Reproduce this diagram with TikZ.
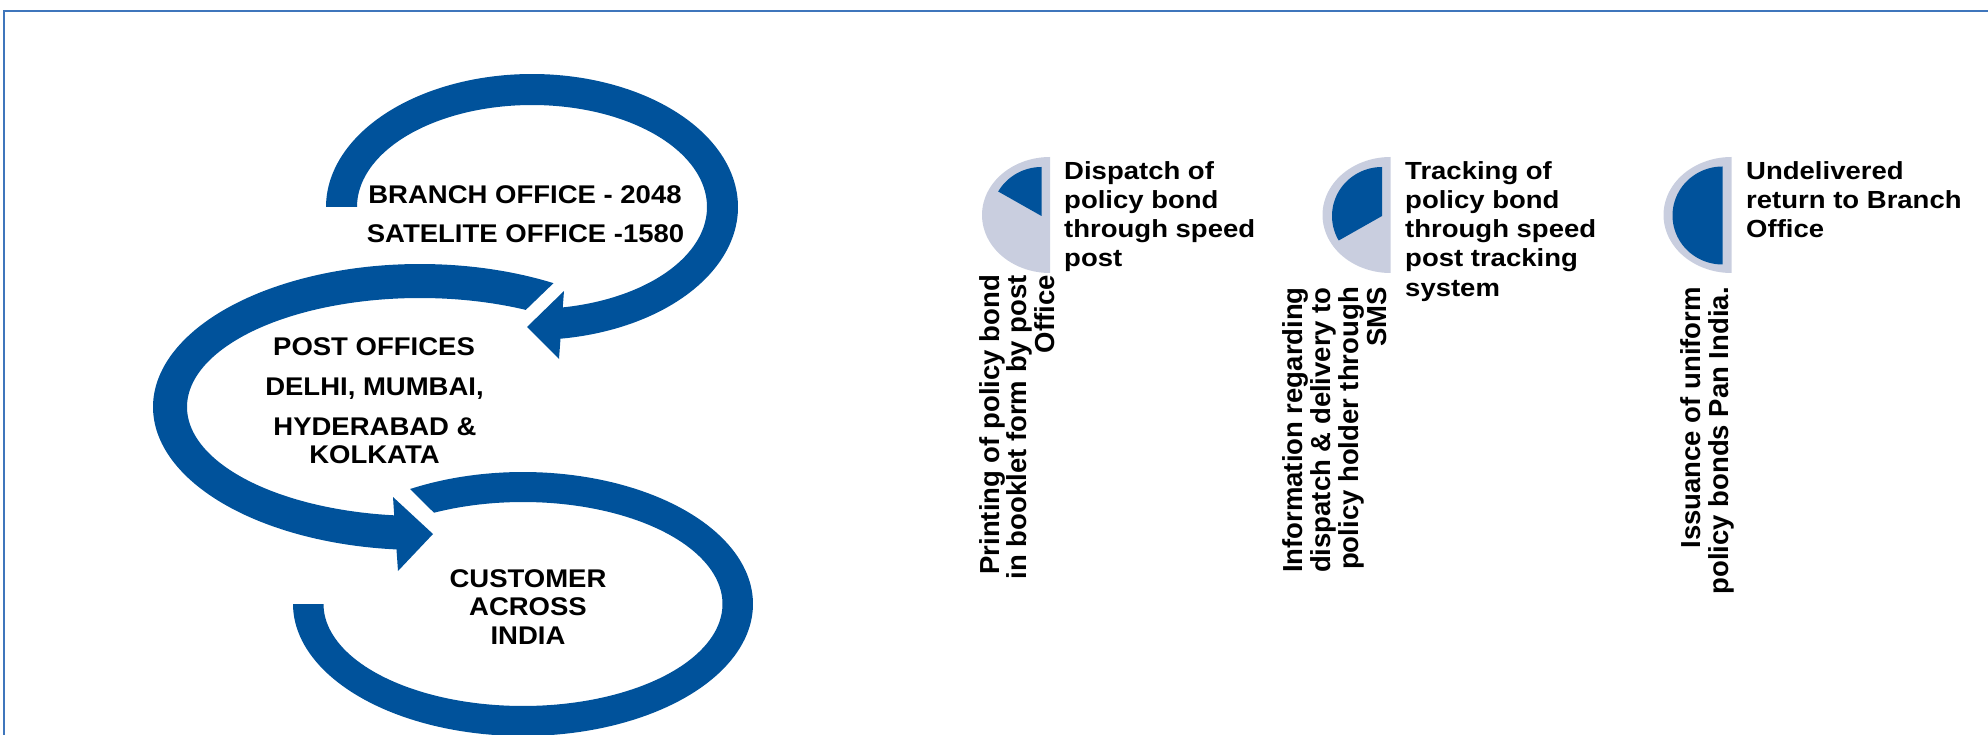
\documentclass[tikz,border=0pt]{standalone}
\usepackage{fontspec}
\setmainfont{Liberation Sans}
\definecolor{ringblue}{HTML}{00529B}
\definecolor{piegray}{HTML}{C9CEDF}
\definecolor{framec}{HTML}{3F76BC}
\tikzset{
  ring/.style={fill=ringblue},
  piebg/.style={fill=piegray},
  frameline/.style={draw=framec, line width=2pt},
  lbl/.style={font=\fontsize{27.5}{30}\selectfont\bfseries, inner sep=0pt, yscale=0.93, anchor=base},
  rtxt/.style={font=\fontsize{27.5}{30}\selectfont\bfseries, inner sep=0pt, yscale=0.9, anchor=base west},
  vtxt/.style={font=\fontsize{27.5}{30}\selectfont\bfseries, inner sep=0pt, rotate=90, anchor=base east},
}
\begin{document}
\begin{tikzpicture}[x=1pt, y=-1pt]
\useasboundingbox (0,0) rectangle (1988,735);
% frame
\draw[frameline] (4,735) -- (4,11) -- (1988,11);

% top loop
\fill[ring] plot[domain=180:442.05, samples=150] ({532+206*cos(\x)},{207+133*sin(\x)})
  -- (559,359) -- (527,327) -- (564,291)
  -- plot[domain=439.88:180, samples=150] ({532+175*cos(\x)},{207+102*sin(\x)}) -- cycle;

% middle loop
\fill[ring] plot[domain=-60:-264.95, samples=150] ({420+267*cos(\x)},{407+143*sin(\x)})
  -- (398,571) -- (433,534) -- (393,497)
  -- plot[domain=-263.64:-63, samples=150] ({420+233*cos(\x)},{407+109*sin(\x)}) -- cycle;

% bottom loop
\fill[ring] plot[domain=-119.4:180, samples=150] ({523+230*cos(\x)},{604+132*sin(\x)})
  -- plot[domain=180:-116.5, samples=150] ({523+199.5*cos(\x)},{604+102*sin(\x)}) -- cycle;

% left labels
\node[lbl] (branch) at (525,204) {BRANCH OFFICE - 2048};
\node[lbl] (satelite) at (525.5,243) {SATELITE OFFICE -1580};
\node[lbl] (post) at (374,355) {POST OFFICES};
\node[lbl] (citiesA) at (374.5,395) {DELHI, MUMBAI,};
\node[lbl] (citiesB) at (375,435) {HYDERABAD \&};
\node[lbl] (citiesC) at (374.5,463) {KOLKATA};
\node[lbl] (custA) at (528,587) {CUSTOMER};
\node[lbl] (custB) at (528,615) {ACROSS};
\node[lbl] (custC) at (528,644) {INDIA};

% pie 1
\fill[piebg] plot[domain=90:270, samples=80] ({1050+68*cos(\x)},{215+58*sin(\x)}) -- cycle;
\fill[ring] (1041.5,216) -- plot[domain=210:270, samples=40] ({1041.5+50*cos(\x)},{216+49*sin(\x)}) -- cycle;
% pie 2
\fill[piebg] plot[domain=90:270, samples=80] ({1390.5+68*cos(\x)},{215+58*sin(\x)}) -- cycle;
\fill[ring] (1382,216) -- plot[domain=150:270, samples=60] ({1382+50*cos(\x)},{216+49*sin(\x)}) -- cycle;
% pie 3
\fill[piebg] plot[domain=90:270, samples=80] ({1731.5+68*cos(\x)},{215+58*sin(\x)}) -- cycle;
\fill[ring] (1722.5,215.5) -- plot[domain=90:270, samples=80] ({1722.5+50*cos(\x)},{215.5+49*sin(\x)}) -- cycle;

% right texts
\node[rtxt] (dA) at (1064,180) {Dispatch of};
\node[rtxt] (dB) at (1064,209) {policy bond};
\node[rtxt] (dC) at (1064,238) {through speed};
\node[rtxt] (dD) at (1064,267) {post};

\node[rtxt] (tA) at (1405,180) {Tracking of};
\node[rtxt] (tB) at (1405,209) {policy bond};
\node[rtxt] (tC) at (1405,238) {through speed};
\node[rtxt] (tD) at (1405,267) {post tracking};
\node[rtxt] (tE) at (1405,296) {system};

\node[rtxt] (uA) at (1746,180) {Undelivered};
\node[rtxt] (uB) at (1746,209) {return to Branch};
\node[rtxt] (uC) at (1746,238) {Office};

% vertical texts
\node[vtxt] (pA) at (999,275) {Printing of policy bond};
\node[vtxt] (pB) at (1026.5,275) {in booklet form by post};
\node[vtxt] (pC) at (1054,275) {Office};

\node[vtxt] (iA) at (1302,287) {Information regarding};
\node[vtxt] (iB) at (1330,287) {dispatch \& delivery to};
\node[vtxt] (iC) at (1358,287) {policy holder through};
\node[vtxt] (iD) at (1386,287) {SMS};

\node[vtxt] (sA) at (1700,287) {Issuance of uniform};
\node[vtxt] (sB) at (1728,287) {policy bonds Pan India.};
\end{tikzpicture}
\end{document}
